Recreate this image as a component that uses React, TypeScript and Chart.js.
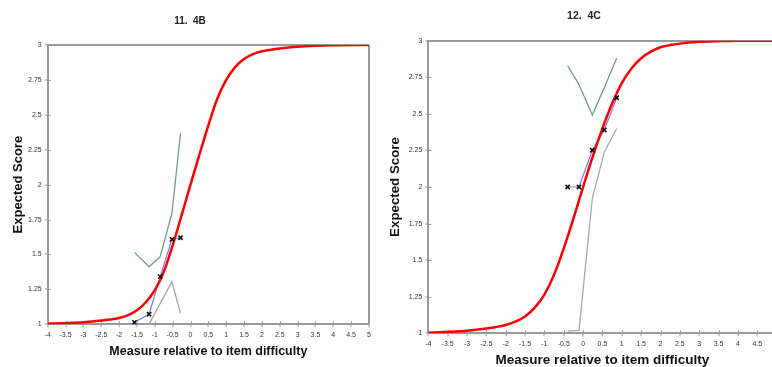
import React, { useEffect, useRef } from "react";
import { Chart, registerables } from "chart.js";

Chart.register(...registerables);

const FONT = "'Liberation Sans', Arial, Helvetica, sans-serif";
const AXIS = "#9a9a9a";

// shared tick values
const xTicks = [-4, -3.5, -3, -2.5, -2, -1.5, -1, -0.5, 0, 0.5, 1, 1.5, 2, 2.5, 3, 3.5, 4, 4.5, 5];
const yTicks = [1, 1.25, 1.5, 1.75, 2, 2.25, 2.5, 2.75, 3];

// model expected-score curve, x positions
const curveX = [-4, -3.5, -3, -2.5, -2.25, -2, -1.75, -1.5, -1.25, -1, -0.75, -0.5, -0.25, 0, 0.25, 0.5, 0.75, 1, 1.25, 1.5, 1.75, 2, 2.25, 2.5, 3, 3.5, 4, 5];

// 11. 4B
const curveY4B = [1.004, 1.008, 1.014, 1.027, 1.034, 1.045, 1.065, 1.1, 1.158, 1.245, 1.375, 1.565, 1.78, 2.0, 2.215, 2.425, 2.615, 2.75, 2.842, 2.9, 2.935, 2.955, 2.966, 2.975, 2.987, 2.994, 2.998, 3.0];
const obsX4B = [-1.57, -1.16, -0.85, -0.52, -0.28];
const obsY4B = [1.014, 1.072, 1.341, 1.608, 1.62];
const upperY4B = [1.515, 1.412, 1.484, 1.795, 2.367];
const lowerY4B = [1.0, 1.0, 1.15, 1.305, 1.079];

// 12. 4C
const curveY4C = [1.004, 1.01, 1.018, 1.033, 1.043, 1.057, 1.08, 1.115, 1.175, 1.265, 1.4, 1.58, 1.785, 2.0, 2.21, 2.4, 2.57, 2.71, 2.81, 2.88, 2.925, 2.955, 2.97, 2.98, 2.992, 2.997, 3.0, 3.0];
const obsX4C = [-0.4, -0.106, 0.238, 0.548, 0.868];
const obsY4C = [2.0, 2.0, 2.251, 2.39, 2.61];
const upperY4C = [2.829, 2.7, 2.492, 2.68, 2.88];
const lowerY4C = [1.015, 1.02, 1.92, 2.24, 2.4];

type Panel = {
  title: string;
  curveY: number[];
  obsX: number[];
  obsY: number[];
  upper: number[];
  lower: number[];
  pageLeft: number;
  W: number;
  H: number;
  padL: number;
  padR: number;
  yW: number;
  xH: number;
  titleSize: number;
  titlePad: { top: number; bottom: number };
  yTitleSize: number;
  yTitlePad: number;
  xTitleSize: number;
  xTitlePad: number;
  tickPadX: number;
};

const innerTicks = {
  id: "innerTicks",
  beforeDatasetsDraw(chart: any) {
    const { ctx, chartArea, scales } = chart;
    ctx.save();
    ctx.strokeStyle = AXIS;
    ctx.lineWidth = 1;
    ctx.beginPath();
    scales.x.ticks.forEach((t: any) => {
      const px = Math.round(scales.x.getPixelForValue(t.value)) + 0.5;
      ctx.moveTo(px, chartArea.bottom);
      ctx.lineTo(px, chartArea.bottom - 3);
    });
    scales.y.ticks.forEach((t: any) => {
      const py = Math.round(scales.y.getPixelForValue(t.value)) + 0.5;
      ctx.moveTo(chartArea.left, py);
      ctx.lineTo(chartArea.left + 3, py);
    });
    ctx.stroke();
    ctx.restore();
  },
};

function ChartPanel({ p }: { p: Panel }) {
  const ref = useRef<HTMLCanvasElement | null>(null);
  useEffect(() => {
    if (!ref.current) return;
    const pts = (xs: number[], ys: number[]) => xs.map((x, i) => ({ x, y: ys[i] }));
    const chart = new Chart(ref.current, {
      type: "line",
      data: {
        datasets: [
          {
            data: pts(p.obsX, p.obsY),
            showLine: false,
            pointStyle: "crossRot",
            pointRadius: 3,
            pointBorderWidth: 1.6,
            pointBorderColor: "#111",
            borderColor: "#111",
            backgroundColor: "#111",
          },
          {
            data: pts(curveX, p.curveY),
            borderColor: "#ff0000",
            borderWidth: 2.5,
            pointRadius: 0,
            cubicInterpolationMode: "monotone",
          },
          {
            data: pts(p.obsX, p.obsY),
            borderColor: "#7878f8",
            borderWidth: 1.2,
            pointRadius: 0,
          },
          {
            data: pts(p.obsX, p.upper),
            borderColor: "#6e9b98",
            borderWidth: 1.3,
            pointRadius: 0,
          },
          {
            data: pts(p.obsX, p.lower),
            borderColor: "#a8a8a8",
            borderWidth: 1.3,
            pointRadius: 0,
          },
        ] as any,
      },
      options: {
        animation: false,
        responsive: false,
        events: [],
        layout: { padding: { left: p.padL, right: p.padR, top: 0, bottom: 0 } },
        plugins: {
          legend: { display: false },
          tooltip: { enabled: false },
          title: {
            display: true,
            text: p.title,
            color: "#222",
            font: { family: FONT, size: p.titleSize, weight: "bold" },
            padding: p.titlePad,
          },
        },
        scales: {
          x: {
            type: "linear",
            min: -4,
            max: 5,
            afterBuildTicks: (s: any) => {
              s.ticks = xTicks.map((v) => ({ value: v }));
            },
            afterFit: (s: any) => {
              s.height = p.xH;
            },
            ticks: {
              autoSkip: false,
              maxRotation: 0,
              padding: p.tickPadX,
              color: "#333",
              font: { family: FONT, size: 7 },
              callback: (v: any) => String(v),
            },
            grid: {
              drawOnChartArea: true,
              color: (c: any) => (c.tick && c.tick.value === 5 ? AXIS : "rgba(0,0,0,0)"),
              lineWidth: 2,
              tickColor: AXIS,
              tickWidth: 1,
              tickLength: 3,
            },
            border: { color: AXIS, width: 2 },
            title: {
              display: true,
              text: "Measure relative to item difficulty",
              color: "#111",
              font: { family: FONT, size: p.xTitleSize, weight: "bold", lineHeight: 1.2 },
              padding: { top: 0, bottom: p.xTitlePad },
            },
          },
          y: {
            type: "linear",
            min: 1,
            max: 3,
            afterBuildTicks: (s: any) => {
              s.ticks = yTicks.map((v) => ({ value: v }));
            },
            afterFit: (s: any) => {
              s.width = p.yW;
            },
            ticks: {
              autoSkip: false,
              padding: 3,
              color: "#333",
              font: { family: FONT, size: 7 },
              callback: (v: any) => String(v),
            },
            grid: {
              drawOnChartArea: true,
              color: (c: any) => (c.tick && c.tick.value === 3 ? AXIS : "rgba(0,0,0,0)"),
              lineWidth: 2,
              tickColor: AXIS,
              tickWidth: 1,
              tickLength: 3,
            },
            border: { color: AXIS, width: 2 },
            title: {
              display: true,
              text: "Expected Score",
              color: "#111",
              font: { family: FONT, size: p.yTitleSize, weight: "bold", lineHeight: 1.2 },
              padding: { top: p.yTitlePad, bottom: 0 },
            },
          },
        },
      } as any,
      plugins: [innerTicks],
    });
    return () => chart.destroy();
  }, [p]);
  return (
    <canvas
      ref={ref}
      width={p.W}
      height={p.H}
      style={{ position: "absolute", left: p.pageLeft, top: 0, width: p.W, height: p.H }}
    />
  );
}

const leftPanel: Panel = {
  title: "11.  4B",
  curveY: curveY4B,
  obsX: obsX4B,
  obsY: obsY4B,
  upper: upperY4B,
  lower: lowerY4B,
  pageLeft: 0,
  W: 380,
  H: 367,
  padL: 11,
  padR: 11,
  yW: 36.7,
  xH: 42.7,
  titleSize: 10,
  titlePad: { top: 15, bottom: 18 },
  yTitleSize: 13,
  yTitlePad: 0,
  xTitleSize: 12.5,
  xTitlePad: 8,
  tickPadX: 3.5,
};

const rightPanel: Panel = {
  title: "12.  4C",
  curveY: curveY4C,
  obsX: obsX4C,
  obsY: obsY4C,
  upper: upperY4C,
  lower: lowerY4C,
  pageLeft: 380,
  W: 408,
  H: 367,
  padL: 11.4,
  padR: 11.4,
  yW: 36.9,
  xH: 33.7,
  titleSize: 10.5,
  titlePad: { top: 9.5, bottom: 18.6 },
  yTitleSize: 13.3,
  yTitlePad: -4,
  xTitleSize: 13.5,
  xTitlePad: -1.6,
  tickPadX: 3.5,
};

export default function App() {
  return (
    <div
      style={{
        position: "fixed",
        left: 0,
        top: 0,
        width: 772,
        height: 367,
        overflow: "hidden",
        background: "#fff",
      }}
    >
      <ChartPanel p={leftPanel} />
      <ChartPanel p={rightPanel} />
    </div>
  );
}
